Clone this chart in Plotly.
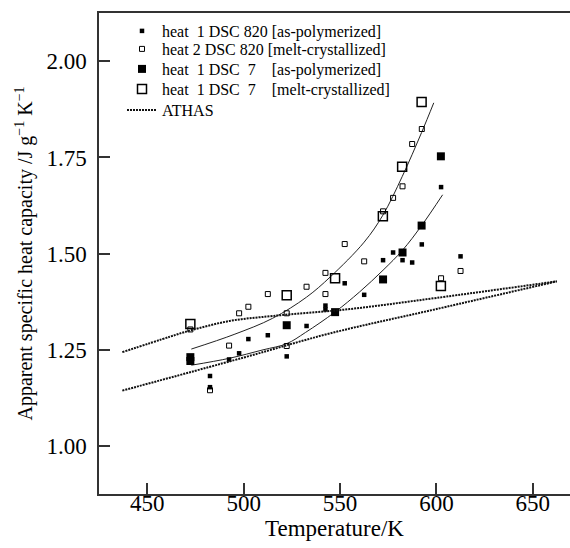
import plotly.graph_objects as go

# --- data ---
t_820_as = [482.5, 482.5, 492.4, 497.6, 502.4, 512.5, 522.3, 532.6, 542.4, 542.4,
            552.4, 562.5, 572.3, 577.5, 582.4, 587.4, 592.4, 602.4, 612.5]
c_820_as = [1.182, 1.153, 1.225, 1.241, 1.278, 1.288, 1.233, 1.312, 1.365, 1.355,
            1.423, 1.393, 1.483, 1.503, 1.483, 1.477, 1.524, 1.673, 1.493]

t_820_mc = [472.3, 482.5, 492.4, 497.6, 502.4, 512.5, 522.3, 522.3, 532.6, 542.4,
            542.4, 552.4, 562.5, 572.3, 577.5, 582.4, 587.4, 592.4, 602.4, 612.5]
c_820_mc = [1.303, 1.145, 1.261, 1.345, 1.362, 1.395, 1.345, 1.260, 1.414, 1.450,
            1.395, 1.525, 1.480, 1.610, 1.645, 1.675, 1.785, 1.824, 1.436, 1.455]

t_7_as = [472.3, 472.3, 522.3, 547.4, 572.3, 582.4, 592.3, 602.3]
c_7_as = [1.231, 1.221, 1.314, 1.348, 1.433, 1.503, 1.573, 1.753]

t_7_mc = [472.3, 522.3, 547.4, 572.2, 582.2, 592.3, 602.3]
c_7_mc = [1.317, 1.392, 1.436, 1.597, 1.726, 1.894, 1.416]

# ATHAS reference lines (upper and lower)
t_athas_up = [437.0, 461.6, 472.0, 492.7, 515.0, 555.0, 600.0, 662.5]
c_athas_up = [1.244, 1.284, 1.300, 1.325, 1.338, 1.356, 1.385, 1.428]
t_athas_lo = [437.0, 500.0, 545.0, 600.0, 662.5]
c_athas_lo = [1.144, 1.230, 1.293, 1.356, 1.428]

# hand-drawn guide curves through the data
t_fit_mc = [472.8, 495.0, 515.0, 532.6, 545.0, 562.5, 572.2, 582.2, 592.3, 598.6]
c_fit_mc = [1.252, 1.290, 1.332, 1.387, 1.440, 1.530, 1.600, 1.700, 1.815, 1.892]
t_fit_as = [472.8, 492.5, 510.0, 522.3, 532.0, 547.3, 560.0, 572.3, 582.4, 592.3, 603.2]
c_fit_as = [1.210, 1.228, 1.250, 1.266, 1.295, 1.348, 1.400, 1.457, 1.509, 1.573, 1.653]

x_ticks = [450, 500, 550, 600, 650]
y_ticks = [1.00, 1.25, 1.50, 1.75, 2.00]

FONT = "Liberation Serif, Times New Roman, serif"
NB = "\u00a0"

W, H = 570, 548
ML, MR, MT, MB = 99, 0, 13, 54
PW, PH = W - ML - MR, H - MT - MB


def px_to_paper_y(py):
    return 1 - (py - MT) / PH


LEG_X = (122 - ML) / PW
leg_rows = [31, 49, 69, 89, 110]

fig = go.Figure()

fig.add_trace(go.Scatter(x=t_fit_mc, y=c_fit_mc, mode="lines", line=dict(color="#222", width=1, shape="spline"),
                         showlegend=False, hoverinfo="skip"))
fig.add_trace(go.Scatter(x=t_fit_as, y=c_fit_as, mode="lines", line=dict(color="#222", width=1, shape="spline"),
                         showlegend=False, hoverinfo="skip"))

fig.add_trace(go.Scatter(x=t_820_as, y=c_820_as, mode="markers", legend="legend",
                         name=f"heat{NB}{NB}1 DSC 820 [as-polymerized]",
                         marker=dict(symbol="square", size=4.5, color="black")))
fig.add_trace(go.Scatter(x=t_820_mc, y=c_820_mc, mode="markers", legend="legend2",
                         name=f"heat{NB}2 DSC 820 [melt-crystallized]",
                         marker=dict(symbol="square-open", size=5, color="black", line=dict(width=1))))
fig.add_trace(go.Scatter(x=t_7_as, y=c_7_as, mode="markers", legend="legend3",
                         name=f"heat{NB}{NB}1 DSC{NB}{NB}7{NB}{NB}{NB}{NB}[as-polymerized]",
                         marker=dict(symbol="square", size=8, color="black")))
fig.add_trace(go.Scatter(x=t_7_mc, y=c_7_mc, mode="markers", legend="legend4",
                         name=f"heat{NB}{NB}1 DSC{NB}{NB}7{NB}{NB}{NB}{NB}[melt-crystallized]",
                         marker=dict(symbol="square-open", size=9, color="black", line=dict(width=1.5))))
fig.add_trace(go.Scatter(x=t_athas_up, y=c_athas_up, mode="lines", name="ATHAS", legend="legend5",
                         legendgroup="athas",
                         line=dict(color="#111", width=2, dash="2px,1px", shape="spline")))
fig.add_trace(go.Scatter(x=t_athas_lo, y=c_athas_lo, mode="lines", name="ATHAS", legend="legend5",
                         legendgroup="athas", showlegend=False,
                         line=dict(color="#111", width=2, dash="2px,1px", shape="spline")))

legend_common = dict(x=LEG_X, xanchor="left", yanchor="middle",
                     font=dict(family=FONT, size=16, color="black"),
                     bgcolor="rgba(0,0,0,0)", itemwidth=30, borderwidth=0)
legends = {}
for i, py in enumerate(leg_rows):
    key = "legend" if i == 0 else f"legend{i + 1}"
    legends[key] = dict(legend_common, y=px_to_paper_y(py))

fig.update_layout(
    width=W, height=H,
    margin=dict(l=ML, r=MR, t=MT, b=MB, autoexpand=False),
    paper_bgcolor="white", plot_bgcolor="white",
    font=dict(family=FONT, color="black", size=23),
    showlegend=True,
    **legends,
    xaxis=dict(range=[424.9, 669.3], tickvals=x_ticks, ticktext=[str(v) for v in x_ticks],
               ticks="inside", ticklen=11, tickwidth=1.5, tickcolor="#333",
               showline=True, linecolor="#333", linewidth=1.5, mirror=True,
               showgrid=False, zeroline=False, automargin=False, ticklabelstandoff=-12,
               tickfont=dict(family=FONT, size=23),
               title=dict(text="Temperature/K", font=dict(family=FONT, size=23), standoff=0)),
    yaxis=dict(range=[0.8753, 2.1255], tickvals=y_ticks, ticktext=[f"{v:.2f}" for v in y_ticks],
               ticks="inside", ticklen=11, tickwidth=1.5, tickcolor="#333",
               showline=True, linecolor="#333", linewidth=1.5, mirror=False,
               showgrid=False, zeroline=False, ticklabelstandoff=6, automargin=False,
               tickfont=dict(family=FONT, size=23),
               title=dict(text="Apparent specific heat capacity /J g<sup>−1</sup> K<sup>−1</sup>",
                          font=dict(family=FONT, size=20), standoff=8)),
)

fig.write_html("out.html", config={"displayModeBar": False},
               post_script="document.body.style.margin='0';")
